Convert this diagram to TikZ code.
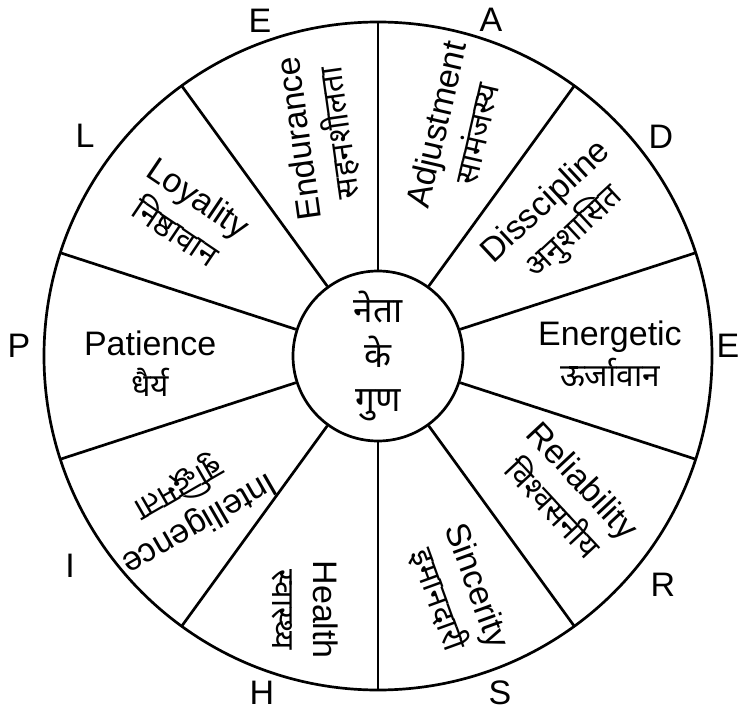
\documentclass[tikz,border=0pt]{standalone}
\usepackage{fontspec}
\setmainfont{Liberation Sans}
\newfontfamily\hindi[Script=Devanagari]{Noto Sans}
\usetikzlibrary{positioning}
\newcommand\hin[1]{{\hindi\fontsize{27}{34}\selectfont #1}}

\begin{document}
\begin{tikzpicture}[
  wheel/.style={line width=2.3pt},
  quality/.style={align=center, inner sep=0pt, font=\fontsize{29}{35}\selectfont},
  letter/.style={inner sep=0pt, font=\fontsize{29}{34}\selectfont}
]
\useasboundingbox (-11.34,-10.71) rectangle (10.86,10.68);
% hub and rim
\node[circle, draw, wheel, minimum size=5.1cm, inner sep=0pt, align=center,
  font=\hindi\fontsize{30}{38}\selectfont] (hub) at (0,0) {नेता\\के\\गुण};
\draw[wheel] (0,0) circle (10.02);
\foreach \a in {18,54,...,342}
  \draw[wheel] (hub.\a) -- (\a:10.02);
% qualities
\node[quality, rotate=98] (endurance) at (104.7:6.84) {Endurance\\\hin{सहनशीलता}};
\node[quality, rotate=77] (adjustment) at (71:7.2) {Adjustment\\\hin{सामंजस्य}};
\node[quality, rotate=43] (disscipline) at (37:6.87) {Disscipline\\\hin{अनुशासित}};
\node[quality] (energetic) at (0.5:6.96) {Energetic\\\hin{ऊर्जावान}};
\node[quality, rotate=-47] (reliability) at (-36:7.05) {Reliability\\\hin{विश्वसनीय}};
\node[quality, rotate=-70] (sincerity) at (-71.6:7.5) {Sincerity\\\hin{इमानदारी}};
\node[quality, rotate=-90] (health) at (-106:7.92) {Health\\\hin{स्वास्थ्य}};
\node[quality, rotate=210] (intelligence) at (-142:7.23) {Intelligence\\\hin{बुद्धिमता}};
\node[quality] (patience) at (182:6.84) {Patience\\\hin{धैर्य}};
\node[quality, rotate=-34] (loyality) at (-5.72,4.25) {Loyality\\\hin{निष्ठावान}};
% initials
\node[letter] (lE1) at (-3.54,10.05) {E};
\node[letter] (lA) at (3.39,10.1) {A};
\node[letter] (lD) at (8.49,6.57) {D};
\node[letter] (lE2) at (10.5,0.3) {E};
\node[letter] (lR) at (8.55,-6.87) {R};
\node[letter] (lS) at (3.66,-10.1) {S};
\node[letter] (lH) at (-3.48,-10.1) {H};
\node[letter] (lI) at (-9.24,-6.3) {I};
\node[letter] (lP) at (-10.77,0.3) {P};
\node[letter] (lL) at (-8.79,6.6) {L};
\end{tikzpicture}
\end{document}
